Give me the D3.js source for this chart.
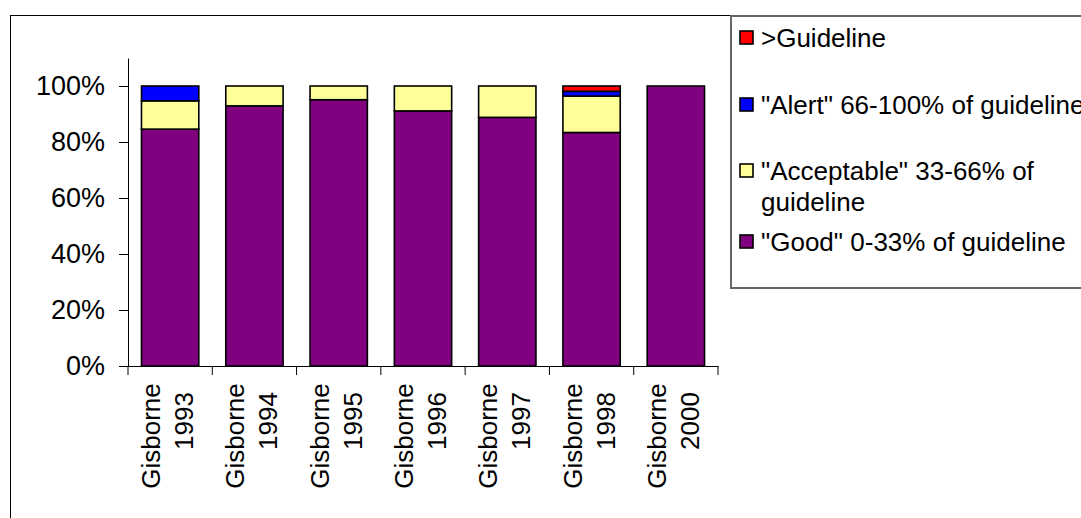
<!DOCTYPE html>
<html>
<head>
<meta charset="utf-8">
<script src="https://cdn.jsdelivr.net/npm/d3@7"></script>
<style>
  html, body { margin: 0; padding: 0; background: #fff; }
  svg { display: block; font-family: "Liberation Sans", Arial, sans-serif; }
</style>
</head>
<body>
<svg id="chart" width="1081" height="518"></svg>
<script>
// Water quality results by survey year, as percentage of samples per band
const sites = ["Gisborne", "Gisborne", "Gisborne", "Gisborne", "Gisborne", "Gisborne", "Gisborne"];
const years = ["1993", "1994", "1995", "1996", "1997", "1998", "2000"];
const good       = [84.6, 92.9, 95.1, 91.1, 88.8, 83.4, 100];
const acceptable = [10.1,  7.1,  4.9,  8.9, 11.2, 13.0,   0];
const alert      = [ 5.3,  0,    0,    0,    0,    1.7,   0];
const over       = [ 0,    0,    0,    0,    0,    1.9,   0];
const yTicks = [0, 20, 40, 60, 80, 100];
const seriesKeys = ["good", "acceptable", "alert", "over"];
const seriesColors = ["#800080", "#FFFF99", "#0000FF", "#FF0000"];

const rows = years.map((y, i) => ({
  key: i, site: sites[i], year: y,
  good: good[i], acceptable: acceptable[i], alert: alert[i], over: over[i]
}));

const svg = d3.select("#chart");
const FS = 26;

// chart frame
svg.append("rect")
  .attr("x", 10.5).attr("y", 15.5)
  .attr("width", 1200).attr("height", 700)
  .attr("fill", "#fff").attr("stroke", "#000").attr("stroke-width", 1);

const x = d3.scaleBand()
  .domain(rows.map(d => d.key))
  .range([128, 718])
  .paddingInner(0.32)
  .paddingOuter(0.16);

const y = d3.scaleLinear().domain([0, 110]).range([366, 58]);

const stack = d3.stack().keys(seriesKeys);
const layers = stack(rows);

svg.append("g").selectAll("g")
  .data(layers)
  .join("g")
    .attr("fill", (d, i) => seriesColors[i])
  .selectAll("rect")
  .data(d => d.filter(p => p[1] - p[0] > 0))
  .join("rect")
    .attr("x", d => x(d.data.key))
    .attr("width", x.bandwidth())
    .attr("y", d => y(d[1]))
    .attr("height", d => y(d[0]) - y(d[1]))
    .attr("stroke", "#000")
    .attr("stroke-width", 1.6);

// value axis
const yAxis = svg.append("g")
  .attr("transform", "translate(128,0)")
  .call(d3.axisLeft(y).tickValues(yTicks).tickSize(9).tickSizeOuter(0).tickPadding(14)
    .tickFormat(d => d + "%"));
yAxis.selectAll("path, line").attr("stroke", "#000").attr("stroke-width", 1);
yAxis.selectAll("text").attr("font-size", 27).attr("fill", "#000")
  .attr("font-family", "Liberation Sans, Arial, sans-serif");

// category axis with ticks between categories
const xAxis = svg.append("g")
  .attr("transform", "translate(0,366)")
  .call(d3.axisBottom(x).tickSize(0).tickSizeOuter(0).tickFormat(""));
xAxis.select("path").attr("stroke", "#000").attr("stroke-width", 1);

const gap = (x.step() - x.bandwidth()) / 2;
const bounds = rows.map(d => x(d.key) - gap).concat([x(rows[rows.length - 1].key) + x.bandwidth() + gap]);
svg.append("g").selectAll("line")
  .data(bounds)
  .join("line")
    .attr("x1", d => d).attr("x2", d => d)
    .attr("y1", 366).attr("y2", 375)
    .attr("stroke", "#000").attr("stroke-width", 1);

const labels = svg.append("g").selectAll("g")
  .data(rows)
  .join("g")
    .attr("transform", d => `translate(${x(d.key) + x.bandwidth() / 2},436) rotate(-90)`);
labels.append("text")
  .attr("x", 0).attr("y", -10)
  .attr("text-anchor", "middle")
  .attr("font-size", FS)
  .text(d => d.site);
labels.append("text")
  .attr("x", 15).attr("y", 23)
  .attr("text-anchor", "middle")
  .attr("font-size", FS)
  .text(d => d.year);

// legend
const legend = svg.append("g");
legend.append("rect")
  .attr("x", 731).attr("y", 16)
  .attr("width", 500).attr("height", 272)
  .attr("fill", "#fff").attr("stroke", "#666").attr("stroke-width", 2);

const legendItems = [
  { i: 3, lines: [">Guideline"], base: 47 },
  { i: 2, lines: ["\"Alert\" 66-100% of guideline"], base: 114 },
  { i: 1, lines: ["\"Acceptable\" 33-66% of", "guideline"], base: 180 },
  { i: 0, lines: ["\"Good\" 0-33% of guideline"], base: 251 }
];
const li = legend.selectAll("g.item")
  .data(legendItems)
  .join("g").attr("class", "item");
li.append("rect")
  .attr("x", 740).attr("y", d => d.base - 16)
  .attr("width", 13).attr("height", 13)
  .attr("fill", d => seriesColors[d.i])
  .attr("stroke", "#000").attr("stroke-width", 1.6);
li.append("text")
  .attr("x", 761).attr("y", d => d.base)
  .attr("font-size", FS)
  .selectAll("tspan")
  .data(d => d.lines)
  .join("tspan")
    .attr("x", 761)
    .attr("dy", (d, k) => k === 0 ? 0 : 31)
    .text(d => d);
</script>
</body>
</html>
